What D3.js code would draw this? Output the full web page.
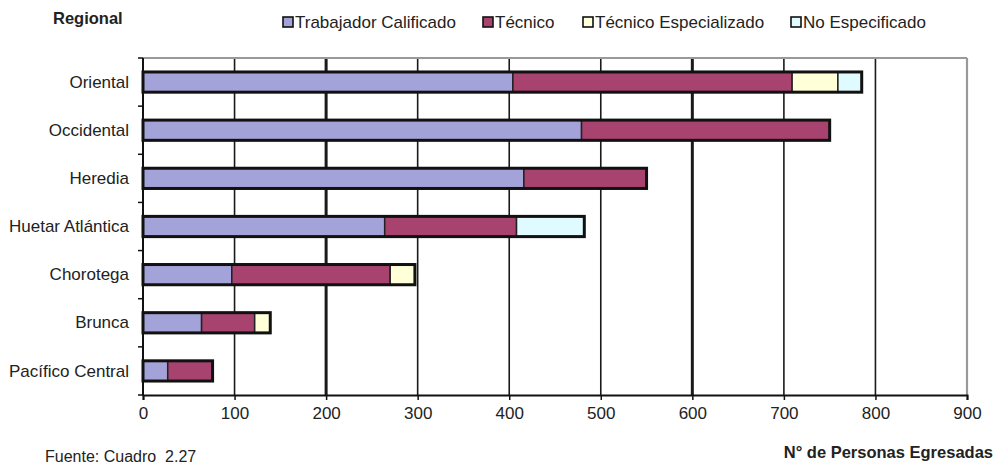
<!DOCTYPE html>
<html><head><meta charset="utf-8">
<script src="https://cdn.jsdelivr.net/npm/d3@7"></script>
<style>body{margin:0;background:#fff}svg{display:block}text{font-family:"Liberation Sans",Arial,sans-serif;fill:#222}</style>
</head><body><div id="c"></div>
<script>
const categories = ["Oriental","Occidental","Heredia","Huetar Atlántica","Chorotega","Brunca","Pacífico Central"];
const seriesNames = ["Trabajador Calificado","Técnico","Técnico Especializado","No Especificado"];
const trabajadorCalificado = [404, 479, 416, 264, 97, 64, 27];
const tecnico = [305, 271, 134, 144, 173, 58, 49];
const tecnicoEspecializado = [50, 0, 0, 0, 27, 17, 0];
const noEspecificado = [26, 0, 0, 74, 0, 0, 0];
const xTicks = [0,100,200,300,400,500,600,700,800,900];
const colors = ["#a3a3d9","#a8426f","#ffffd8","#e0fbff"];

const W=997,H=468, L=143, R=967, T=58, B=395;
const svg=d3.select("#c").append("svg").attr("width",W).attr("height",H);
const x=d3.scaleLinear().domain([0,900]).range([L,R]);
const y=d3.scaleBand().domain(categories).range([T,B]).paddingInner(0.58).paddingOuter(0.29);

// grid
svg.append("g").selectAll("line").data(xTicks.slice(1,-1)).join("line")
 .attr("x1",d=>x(d)).attr("x2",d=>x(d)).attr("y1",T).attr("y2",B)
 .attr("stroke","#1a1a1a").attr("stroke-width",d=>(d===200||d===600)?3:1.6);
// frame top/right
svg.append("line").attr("x1",L).attr("x2",R).attr("y1",T).attr("y2",T).attr("stroke","#999").attr("stroke-width",2.2);
svg.append("line").attr("x1",R).attr("x2",R).attr("y1",T).attr("y2",B).attr("stroke","#999").attr("stroke-width",2.2);

const series=[trabajadorCalificado,tecnico,tecnicoEspecializado,noEspecificado];
const rows=categories.map((c,i)=>{const o={cat:c};seriesNames.forEach((s,j)=>o[s]=series[j][i]);return o;});
const stacked=d3.stack().keys(seriesNames)(rows);

const gb=svg.append("g");
stacked.forEach((layer,j)=>{
  gb.append("g").selectAll("rect").data(layer.filter(d=>d[1]>d[0])).join("rect")
   .attr("x",d=>x(d[0])).attr("width",d=>x(d[1])-x(d[0]))
   .attr("y",d=>y(d.data.cat)).attr("height",y.bandwidth())
   .attr("fill",colors[j]).attr("stroke","#222").attr("stroke-width",1.5);
});
// outer outline
const totals=categories.map((c,i)=>series.reduce((a,s)=>a+s[i],0));
gb.append("g").selectAll("rect").data(categories).join("rect")
 .attr("x",x(0)).attr("width",(d,i)=>x(totals[i])-x(0))
 .attr("y",d=>y(d)).attr("height",y.bandwidth())
 .attr("fill","none").attr("stroke","#111").attr("stroke-width",3);

// left axis
const step=y.step();
svg.append("line").attr("x1",L).attr("x2",L).attr("y1",T).attr("y2",B).attr("stroke","#111").attr("stroke-width",2);
const bounds=d3.range(categories.length+1).map(i=>T+i*step);
svg.append("g").selectAll("line").data(bounds).join("line")
 .attr("x1",L-5).attr("x2",L).attr("y1",d=>d).attr("y2",d=>d).attr("stroke","#111").attr("stroke-width",1.5);
svg.append("g").selectAll("text").data(categories).join("text")
 .attr("x",129).attr("y",d=>y(d)+y.bandwidth()/2).attr("dy","0.33em")
 .attr("text-anchor","end").attr("font-size",17).text(d=>d);

// bottom axis
const xa=svg.append("g").attr("transform",`translate(0,${B})`)
 .call(d3.axisBottom(x).tickValues(xTicks).tickSize(5).tickPadding(7).tickFormat(d3.format("d")));
xa.select(".domain").attr("stroke","#111").attr("stroke-width",2);
xa.selectAll(".tick line").attr("stroke","#111").attr("stroke-width",1.5);
xa.selectAll("text").attr("font-size",17).attr("font-family","Liberation Sans, Arial, sans-serif").attr("fill","#222");

// titles
svg.append("text").attr("x",53).attr("y",24).attr("font-size",16.5).attr("font-weight","bold").text("Regional");
svg.append("text").attr("x",993).attr("y",458).attr("text-anchor","end").attr("font-size",16.5).attr("font-weight","bold").text("N° de Personas Egresadas");
svg.append("text").attr("x",45).attr("y",462).attr("font-size",16).text("Fuente: Cuadro  2.27").attr("xml:space","preserve").style("white-space","pre");

// legend
const legX=[283,483,583,791];
const lg=svg.append("g");
seriesNames.forEach((s,j)=>{
  lg.append("rect").attr("x",legX[j]).attr("y",17).attr("width",10).attr("height",10)
   .attr("fill",colors[j]).attr("stroke","#111").attr("stroke-width",1.6);
  lg.append("text").attr("x",legX[j]+12).attr("y",28).attr("font-size",17).text(s);
});
</script></body></html>
